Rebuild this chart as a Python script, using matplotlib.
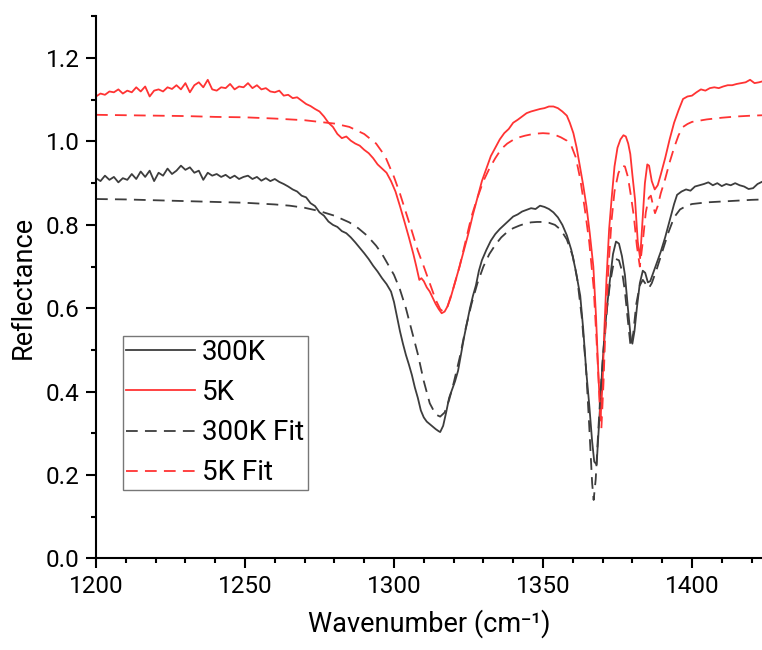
import matplotlib
matplotlib.use("Agg")
import matplotlib.pyplot as plt
from matplotlib.ticker import MultipleLocator

plt.rcParams['font.family'] = ['Roboto', 'DejaVu Sans']

# 300K measured
x_300 = [1200, 1201.5, 1203, 1204.5, 1206, 1207.5, 1209, 1210.5, 1212, 1213.5, 1215, 1216.5, 1218, 1219.5,
         1221, 1222.5, 1224, 1225.5, 1227, 1228.5, 1230, 1231.5, 1233, 1234.5, 1236, 1237.5, 1239, 1240.5,
         1242, 1243.5, 1245, 1246.5, 1248, 1249.5, 1251, 1252.5, 1254, 1255.5, 1257, 1258.5, 1260, 1261.5,
         1263, 1264.5, 1266, 1267.5, 1269, 1270.5, 1272, 1273.5, 1275, 1276.5, 1278, 1279.5, 1281, 1282.5,
         1284, 1285.5, 1287, 1288.5, 1290, 1291.5, 1293, 1294.5, 1296, 1297.5, 1299, 1300, 1301, 1302, 1303,
         1304, 1305, 1306, 1307, 1308, 1309, 1310, 1311, 1312, 1313, 1314, 1315, 1315.5, 1316.5, 1317.5,
         1318.5, 1319.5, 1320.5, 1321.5, 1322.5, 1323.5, 1324.5, 1325.5, 1326.5, 1327.5, 1328.5, 1329.5,
         1331, 1332.5, 1334, 1335.5, 1337, 1338.5, 1340, 1341.5, 1343, 1344.5, 1346, 1347.5, 1349, 1350.5,
         1352, 1353.5, 1355, 1356.5, 1358, 1359.5, 1361, 1362.5, 1363.5, 1364.5, 1365.5, 1366.5, 1367.2,
         1368, 1369, 1370, 1371.3, 1372.5, 1373.5, 1374.5, 1375.5, 1376.5, 1377.5, 1378.5, 1379.5, 1380,
         1380.7, 1381.5, 1382.5, 1383.5, 1384.3, 1385.2, 1386, 1387, 1388, 1389.5, 1391, 1392.5, 1394, 1395,
         1396.5, 1398, 1399.5, 1401, 1402.5, 1404, 1405.5, 1407, 1408.5, 1410, 1411.5, 1413, 1414.5, 1416,
         1417.5, 1419, 1420.5, 1422, 1424]
y_300 = [0.912, 0.905, 0.918, 0.908, 0.915, 0.902, 0.912, 0.908, 0.922, 0.910, 0.928, 0.915, 0.930, 0.905,
         0.925, 0.918, 0.935, 0.922, 0.930, 0.942, 0.932, 0.938, 0.925, 0.930, 0.908, 0.925, 0.918, 0.922,
         0.915, 0.920, 0.912, 0.918, 0.910, 0.915, 0.918, 0.910, 0.915, 0.906, 0.912, 0.905, 0.910, 0.903,
         0.898, 0.892, 0.885, 0.880, 0.870, 0.866, 0.852, 0.845, 0.830, 0.822, 0.808, 0.800, 0.795, 0.785,
         0.780, 0.770, 0.758, 0.745, 0.732, 0.718, 0.702, 0.688, 0.672, 0.658, 0.640, 0.615, 0.580, 0.545,
         0.515, 0.488, 0.465, 0.440, 0.410, 0.385, 0.355, 0.338, 0.328, 0.322, 0.316, 0.310, 0.305, 0.303,
         0.318, 0.350, 0.385, 0.405, 0.425, 0.450, 0.490, 0.530, 0.565, 0.600, 0.630, 0.655, 0.690, 0.715,
         0.740, 0.762, 0.778, 0.790, 0.800, 0.810, 0.820, 0.825, 0.832, 0.836, 0.840, 0.838, 0.846, 0.843,
         0.838, 0.830, 0.818, 0.800, 0.775, 0.740, 0.690, 0.630, 0.550, 0.450, 0.370, 0.280, 0.232, 0.225,
         0.345, 0.470, 0.590, 0.670, 0.730, 0.760, 0.755, 0.725, 0.680, 0.600, 0.525, 0.515, 0.545, 0.600,
         0.660, 0.690, 0.685, 0.662, 0.665, 0.685, 0.705, 0.735, 0.770, 0.810, 0.850, 0.872, 0.880, 0.885,
         0.882, 0.892, 0.895, 0.898, 0.902, 0.895, 0.900, 0.893, 0.898, 0.895, 0.900, 0.895, 0.892, 0.886,
         0.888, 0.898, 0.905]

# 300K fit
x_300fit = [1200, 1210, 1220, 1230, 1240, 1250, 1260, 1265, 1270, 1275, 1280, 1285, 1288, 1291, 1294, 1296,
            1298, 1300, 1302, 1304, 1306, 1308, 1310, 1312, 1314, 1315.5, 1317, 1318.5, 1320, 1322, 1324,
            1326, 1328, 1330, 1332, 1334, 1336, 1338, 1340, 1342, 1344, 1346, 1348, 1350, 1352, 1354, 1356,
            1358, 1360, 1361.5, 1363, 1364.5, 1365.5, 1366.5, 1367, 1367.7, 1368.5, 1369.5, 1370.5, 1371.5,
            1372.5, 1373.5, 1374.5, 1375.5, 1376.5, 1377.5, 1378.5, 1379.4, 1380.3, 1381.3, 1382.5, 1383.5,
            1384.5, 1385.5, 1386.5, 1388, 1390, 1392, 1394, 1396, 1398, 1400, 1405, 1410, 1415, 1420, 1424]
y_300fit = [0.862, 0.861, 0.859, 0.857, 0.855, 0.853, 0.849, 0.846, 0.841, 0.833, 0.822, 0.806, 0.792, 0.774,
            0.750, 0.730, 0.705, 0.680, 0.645, 0.600, 0.545, 0.490, 0.425, 0.372, 0.345, 0.340, 0.350, 0.380,
            0.420, 0.480, 0.550, 0.610, 0.660, 0.700, 0.730, 0.752, 0.770, 0.783, 0.792, 0.798, 0.803, 0.806,
            0.807, 0.807, 0.805, 0.800, 0.788, 0.765, 0.725, 0.670, 0.580, 0.450, 0.320, 0.180, 0.140, 0.190,
            0.300, 0.420, 0.520, 0.600, 0.660, 0.700, 0.718, 0.715, 0.690, 0.640, 0.570, 0.508, 0.540, 0.610,
            0.655, 0.668, 0.658, 0.648, 0.660, 0.690, 0.735, 0.780, 0.818, 0.837, 0.845, 0.850, 0.854, 0.856,
            0.858, 0.860, 0.861]

# 5K measured
x_5 = [1200, 1201.5, 1203, 1204.5, 1206, 1207.5, 1209, 1210.5, 1212, 1213.5, 1215, 1216.5, 1218, 1219.5,
       1221, 1222.5, 1224, 1225.5, 1227, 1228.5, 1230, 1231.5, 1233, 1234.5, 1236, 1237.5, 1239, 1240.5,
       1242, 1243.5, 1245, 1246.5, 1248, 1249.5, 1251, 1252.5, 1254, 1255.5, 1257, 1258.5, 1260, 1261.5,
       1263, 1264.5, 1266, 1267.5, 1269, 1270.5, 1272, 1273.5, 1275, 1276.5, 1278, 1279.5, 1281, 1282.5,
       1284, 1285.5, 1287, 1288.5, 1290, 1291.5, 1293, 1294.5, 1296, 1297.5, 1299, 1300.5, 1302, 1303.5,
       1305, 1306.5, 1307.5, 1308.5, 1309.2, 1310, 1311, 1312, 1313, 1314, 1315, 1316, 1317, 1318, 1319,
       1320, 1321, 1322, 1323.5, 1325, 1326.5, 1328, 1329.5, 1331, 1332.5, 1334, 1335.5, 1337, 1338.5, 1340,
       1341.5, 1343, 1344.5, 1346, 1347.5, 1349, 1350.5, 1352, 1353.5, 1355, 1356.5, 1358, 1359, 1360.2,
       1361.3, 1362.4, 1363.5, 1364.6, 1365.7, 1366.9, 1367.8, 1368.6, 1369.3, 1370, 1370.6, 1371.3, 1372.2,
       1373, 1374, 1375, 1376, 1377, 1377.8, 1378.6, 1379.3, 1380, 1380.9, 1381.8, 1382.6, 1383.3, 1384.2,
       1385, 1385.6, 1386.5, 1387.5, 1388.5, 1389.5, 1391, 1392.5, 1394, 1395.5, 1397, 1398.5, 1400, 1401.5,
       1403, 1404.5, 1406, 1407.5, 1409, 1410.5, 1412, 1413.5, 1415, 1416.5, 1418, 1419.5, 1421, 1422.5, 1424]
y_5 = [1.108, 1.115, 1.112, 1.120, 1.118, 1.125, 1.115, 1.122, 1.118, 1.130, 1.120, 1.132, 1.108, 1.122,
       1.125, 1.120, 1.130, 1.126, 1.135, 1.125, 1.140, 1.118, 1.135, 1.142, 1.130, 1.148, 1.125, 1.122,
       1.130, 1.128, 1.138, 1.125, 1.132, 1.130, 1.140, 1.128, 1.135, 1.125, 1.128, 1.120, 1.118, 1.122,
       1.110, 1.112, 1.104, 1.106, 1.098, 1.090, 1.085, 1.078, 1.072, 1.060, 1.045, 1.035, 1.018, 1.008,
       1.012, 1.002, 0.995, 0.990, 0.980, 0.972, 0.960, 0.945, 0.935, 0.925, 0.905, 0.880, 0.845, 0.808,
       0.770, 0.730, 0.700, 0.668, 0.672, 0.665, 0.650, 0.640, 0.625, 0.610, 0.598, 0.588, 0.592, 0.605,
       0.625, 0.650, 0.675, 0.700, 0.740, 0.780, 0.825, 0.865, 0.905, 0.935, 0.965, 0.985, 1.005, 1.020,
       1.030, 1.045, 1.052, 1.060, 1.068, 1.072, 1.075, 1.078, 1.080, 1.084, 1.084, 1.080, 1.072, 1.062,
       1.045, 1.020, 0.985, 0.940, 0.895, 0.844, 0.780, 0.700, 0.580, 0.440, 0.335, 0.420, 0.550, 0.668,
       0.790, 0.860, 0.940, 0.985, 1.005, 1.015, 1.012, 0.995, 0.970, 0.920, 0.860, 0.760, 0.720, 0.800,
       0.900, 0.945, 0.942, 0.905, 0.885, 0.895, 0.920, 0.960, 1.005, 1.045, 1.075, 1.102, 1.108, 1.110,
       1.118, 1.125, 1.122, 1.128, 1.130, 1.128, 1.132, 1.135, 1.135, 1.138, 1.140, 1.142, 1.148, 1.140,
       1.142, 1.145]

# 5K fit
x_5fit = [1200, 1210, 1220, 1230, 1240, 1250, 1260, 1270, 1280, 1285, 1290, 1294, 1297, 1300, 1302, 1304,
          1306, 1308, 1310, 1312, 1314, 1315.5, 1316.5, 1318, 1320, 1322, 1324, 1326, 1328, 1330, 1332, 1334,
          1336, 1338, 1340, 1342, 1344, 1346, 1348, 1350, 1352, 1354, 1356, 1358, 1359.5, 1361, 1362.5, 1364,
          1365.5, 1367, 1368, 1369, 1369.6, 1370.3, 1371, 1372, 1373, 1374, 1375.3, 1376.5, 1377.5, 1378.5,
          1379.5, 1380.5, 1381.5, 1382.5, 1383.5, 1384.5, 1385.5, 1386.2, 1386.9, 1387.6, 1388.5, 1389.5,
          1391, 1392.5, 1394, 1395.5, 1397, 1398.5, 1400, 1405, 1410, 1415, 1420, 1424]
y_5fit = [1.064, 1.063, 1.062, 1.061, 1.059, 1.058, 1.055, 1.051, 1.043, 1.035, 1.018, 0.995, 0.965, 0.915,
          0.875, 0.830, 0.785, 0.738, 0.700, 0.660, 0.620, 0.598, 0.592, 0.605, 0.650, 0.700, 0.760, 0.820,
          0.865, 0.905, 0.935, 0.960, 0.982, 0.995, 1.004, 1.010, 1.014, 1.017, 1.019, 1.020, 1.019, 1.016,
          1.010, 1.002, 0.990, 0.962, 0.910, 0.840, 0.760, 0.650, 0.520, 0.380, 0.312, 0.420, 0.560, 0.700,
          0.810, 0.880, 0.924, 0.942, 0.940, 0.915, 0.870, 0.820, 0.750, 0.700, 0.760, 0.830, 0.865, 0.870,
          0.848, 0.828, 0.845, 0.875, 0.910, 0.950, 0.985, 1.015, 1.035, 1.042, 1.047, 1.053, 1.057, 1.060,
          1.062, 1.063]

labels = ["300K", "5K", "300K Fit", "5K Fit"]
gray = "#3d3d3d"
red = "#ff3333"

fig = plt.figure(figsize=(7.62, 6.5), dpi=100)
ax = fig.add_axes([0.126, 0.141, 0.874, 0.835])

ax.plot(x_300, y_300, color=gray, lw=1.3, label=labels[0])
ax.plot(x_5, y_5, color=red, lw=1.3, label=labels[1])
ax.plot(x_300fit, y_300fit, color=gray, lw=1.3, ls=(0, (6.5, 4)), label=labels[2])
ax.plot(x_5fit, y_5fit, color=red, lw=1.3, ls=(0, (6.5, 4)), label=labels[3])

ax.set_xlim(1200, 1423.5)
ax.set_ylim(0, 1.302)
ax.xaxis.set_major_locator(MultipleLocator(50))
ax.xaxis.set_minor_locator(MultipleLocator(10))
ax.yaxis.set_major_locator(MultipleLocator(0.2))
ax.yaxis.set_minor_locator(MultipleLocator(0.1))
ax.yaxis.set_major_formatter(plt.FuncFormatter(lambda v, p: f"{v:.1f}"))

for s in ["top", "right"]:
    ax.spines[s].set_visible(False)
for s in ["left", "bottom"]:
    ax.spines[s].set_linewidth(1.5)
ax.tick_params(which="major", direction="out", length=7, width=1.5, labelsize=17.5, pad=5)
ax.tick_params(which="minor", direction="out", length=3.8, width=1.5)

ax.set_xlabel("Wavenumber (cm\u207b\u00b9)", fontsize=19.5, labelpad=8)
ax.set_ylabel("Reflectance", fontsize=19.5, labelpad=6)

leg = ax.legend(loc="upper left", bbox_to_anchor=(0.04, 0.41), fontsize=20, frameon=True,
                fancybox=False, edgecolor="#555555", handlelength=2.5, handletextpad=0.24,
                borderpad=0.12, labelspacing=0.47, borderaxespad=0)
leg.get_frame().set_linewidth(1.0)

fig.savefig("out.png", dpi=100)
